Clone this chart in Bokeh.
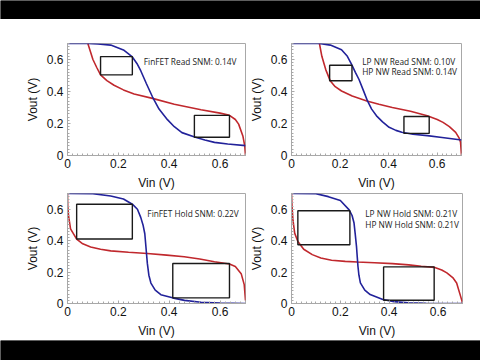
from bokeh.plotting import figure
from bokeh.layouts import column, row
from bokeh.models import Range1d, FixedTicker, ColumnDataSource
from bokeh.core.properties import value
from bokeh.embed import file_html
from bokeh.resources import INLINE

# ---------------- data ----------------
TICKS = [0, 0.2, 0.4, 0.6]
TICK_LABELS = {0: "0", 0.2: "0.2", 0.4: "0.4", 0.6: "0.6"}
MINOR = [round(i * 0.02, 2) for i in range(36)]
X_LABEL = "Vin (V)"
Y_LABEL = "Vout (V)"

# Panel 1: FinFET read
blue1_x = [0, 0.08, 0.12, 0.17, 0.22, 0.255, 0.275, 0.288, 0.31, 0.334, 0.36, 0.393, 0.42, 0.45, 0.5, 0.54, 0.578, 0.63, 0.7]
blue1_y = [0.7, 0.7, 0.697, 0.69, 0.66, 0.616, 0.57, 0.53, 0.45, 0.367, 0.29, 0.224, 0.18, 0.143, 0.116, 0.097, 0.082, 0.072, 0.062]
red1_x = [0.08, 0.09, 0.1, 0.115, 0.13, 0.155, 0.183, 0.22, 0.262, 0.334, 0.42, 0.525, 0.6, 0.637, 0.66, 0.673, 0.69, 0.697, 0.7]
red1_y = [0.7, 0.65, 0.6, 0.55, 0.504, 0.468, 0.439, 0.41, 0.384, 0.357, 0.32, 0.286, 0.265, 0.251, 0.225, 0.196, 0.12, 0.06, 0.0]
box1_left = [0.13, 0.499]
box1_right = [0.255, 0.637]
box1_bottom = [0.504, 0.114]
box1_top = [0.618, 0.251]
text1 = ["FinFET Read SNM: 0.14V"]
text1_x = [0.30]
text1_y = [0.586]

# Panel 2: nanowire read
blue2_x = [0, 0.115, 0.16, 0.206, 0.23, 0.248, 0.263, 0.278, 0.295, 0.313, 0.33, 0.35, 0.375, 0.402, 0.43, 0.454, 0.5, 0.559, 0.62, 0.7]
blue2_y = [0.7, 0.7, 0.69, 0.661, 0.62, 0.568, 0.52, 0.475, 0.41, 0.341, 0.29, 0.248, 0.21, 0.176, 0.157, 0.145, 0.133, 0.124, 0.113, 0.097]
red2_x = [0.115, 0.125, 0.141, 0.16, 0.18, 0.206, 0.25, 0.31, 0.36, 0.415, 0.49, 0.559, 0.6, 0.624, 0.65, 0.676, 0.69, 0.696, 0.7]
red2_y = [0.7, 0.62, 0.537, 0.465, 0.43, 0.403, 0.372, 0.341, 0.32, 0.30, 0.276, 0.248, 0.225, 0.207, 0.18, 0.145, 0.11, 0.083, 0.0]
box2_left = [0.157, 0.463]
box2_right = [0.249, 0.567]
box2_bottom = [0.467, 0.138]
box2_top = [0.564, 0.244]
text2 = ["LP NW Read SNM: 0.10V", "HP NW Read SNM: 0.14V"]
text2_x = [0.291, 0.291]
text2_y = [0.589, 0.523]

# Panel 3: FinFET hold
blue3_x = [0, 0.1, 0.17, 0.22, 0.255, 0.275, 0.288, 0.297, 0.304, 0.309, 0.314, 0.32, 0.328, 0.345, 0.367, 0.413, 0.46, 0.525, 0.6, 0.7]
blue3_y = [0.7, 0.699, 0.684, 0.665, 0.632, 0.6, 0.548, 0.5, 0.444, 0.35, 0.255, 0.18, 0.13, 0.085, 0.056, 0.036, 0.02, 0.008, 0.003, 0.0]
red3_x = [0, 0.001, 0.004, 0.012, 0.036, 0.06, 0.091, 0.13, 0.17, 0.24, 0.314, 0.39, 0.459, 0.52, 0.578, 0.637, 0.66, 0.683, 0.695, 0.7]
red3_y = [0.7, 0.62, 0.56, 0.475, 0.41, 0.38, 0.36, 0.345, 0.335, 0.326, 0.318, 0.308, 0.297, 0.283, 0.266, 0.251, 0.235, 0.19, 0.12, 0.02]
box3_left = [0.036, 0.414]
box3_right = [0.255, 0.637]
box3_bottom = [0.41, 0.036]
box3_top = [0.632, 0.255]
text3 = ["FinFET Hold SNM: 0.22V"]
text3_x = [0.314]
text3_y = [0.573]

# Panel 4: nanowire hold
blue4_x = [0, 0.1, 0.151, 0.2, 0.236, 0.248, 0.256, 0.261, 0.266, 0.269, 0.272, 0.276, 0.282, 0.3, 0.322, 0.374, 0.42, 0.479, 0.55, 0.7]
blue4_y = [0.7, 0.699, 0.68, 0.655, 0.596, 0.56, 0.512, 0.44, 0.364, 0.3, 0.237, 0.18, 0.131, 0.085, 0.057, 0.025, 0.012, 0.004, 0.001, 0.0]
red4_x = [0, 0.002, 0.006, 0.013, 0.026, 0.05, 0.085, 0.12, 0.164, 0.22, 0.269, 0.34, 0.413, 0.48, 0.531, 0.584, 0.615, 0.636, 0.66, 0.676, 0.692, 0.698, 0.7]
red4_y = [0.7, 0.62, 0.53, 0.448, 0.395, 0.345, 0.311, 0.29, 0.275, 0.268, 0.264, 0.259, 0.254, 0.246, 0.237, 0.23, 0.213, 0.195, 0.165, 0.131, 0.047, 0.015, 0.0]
box4_left = [0.026, 0.377]
box4_right = [0.239, 0.584]
box4_bottom = [0.374, 0.021]
box4_top = [0.59, 0.233]
text4 = ["LP NW Hold SNM: 0.21V", "HP NW Hold SNM: 0.21V"]
text4_x = [0.302, 0.302]
text4_y = [0.571, 0.501]

BLUE = "#22229a"
RED = "#c0282d"
AXIS_GRAY = "#a8a8a8"
AXIS_FONT = "Liberation Sans"


def make_panel(w, h, bl, br, bt, bb, bx, by, rx, ry, left, right, bottom, top, texts, tx, ty):
    p = figure(width=w, height=h, output_backend="svg", toolbar_location=None,
               x_range=Range1d(0, 0.7), y_range=Range1d(0, 0.7),
               min_border_left=bl, min_border_right=br, min_border_top=bt, min_border_bottom=bb,
               background_fill_color="white", border_fill_color="white",
               outline_line_color=AXIS_GRAY, outline_line_width=1)
    p.xgrid.visible = False
    p.ygrid.visible = False
    for ax in (p.xaxis[0], p.yaxis[0]):
        ax.ticker = FixedTicker(ticks=TICKS, minor_ticks=MINOR)
        ax.major_label_overrides = TICK_LABELS
        ax.axis_line_color = AXIS_GRAY
        ax.major_tick_line_color = AXIS_GRAY
        ax.minor_tick_line_color = AXIS_GRAY
        ax.major_tick_in = 3
        ax.major_tick_out = 0
        ax.minor_tick_in = 2
        ax.minor_tick_out = 0
        ax.major_label_text_font = AXIS_FONT
        ax.major_label_text_font_size = "12px"
        ax.major_label_text_color = "#111111"
        ax.axis_label_text_font = AXIS_FONT
        ax.axis_label_text_font_size = "12px"
        ax.axis_label_text_font_style = "normal"
        ax.axis_label_text_color = "#111111"
    p.xaxis.axis_label = X_LABEL
    p.yaxis.axis_label = Y_LABEL
    p.xaxis.major_label_standoff = 3
    p.xaxis.axis_label_standoff = 5
    p.yaxis.major_label_standoff = 4
    p.yaxis.axis_label_standoff = 4

    p.line(rx, ry, line_color=RED, line_width=1.6)
    p.line(bx, by, line_color=BLUE, line_width=1.6)
    p.quad(left=left, right=right, bottom=bottom, top=top,
           fill_alpha=0, line_color="#1a1a1a", line_width=1.4)
    src = ColumnDataSource(dict(x=tx, y=ty, t=texts))
    p.text(x="x", y="y", text="t", source=src, text_font=value("Open Sans"),
           text_font_size="8.3px", text_color="#222222",
           text_baseline="middle", text_align="left")
    return p


def band(h):
    b = figure(width=480, height=h, output_backend="svg", toolbar_location=None,
               x_range=Range1d(0, 1), y_range=Range1d(0, 1), min_border=0,
               background_fill_color="black", border_fill_color="black",
               outline_line_color=None)
    b.axis.visible = False
    b.grid.visible = False
    b.quad(left=[0], right=[1], bottom=[0], top=[1], fill_color="black", line_color=None)
    return b


p1 = make_panel(246, 173, 67, 1, 24, 35, blue1_x, blue1_y, red1_x, red1_y,
                box1_left, box1_right, box1_bottom, box1_top, text1, text1_x, text1_y)
p2 = make_panel(234, 173, 38, 19, 24, 35, blue2_x, blue2_y, red2_x, red2_y,
                box2_left, box2_right, box2_bottom, box2_top, text2, text2_x, text2_y)
p3 = make_panel(246, 148, 67, 1, 1, 36, blue3_x, blue3_y, red3_x, red3_y,
                box3_left, box3_right, box3_bottom, box3_top, text3, text3_x, text3_y)
p4 = make_panel(234, 148, 39, 18, 1, 36, blue4_x, blue4_y, red4_x, red4_y,
                box4_left, box4_right, box4_bottom, box4_top, text4, text4_x, text4_y)

layout = column(band(19), row(p1, p2), row(p3, p4), band(20))

open("out.html", "w").write(file_html(layout, INLINE))
